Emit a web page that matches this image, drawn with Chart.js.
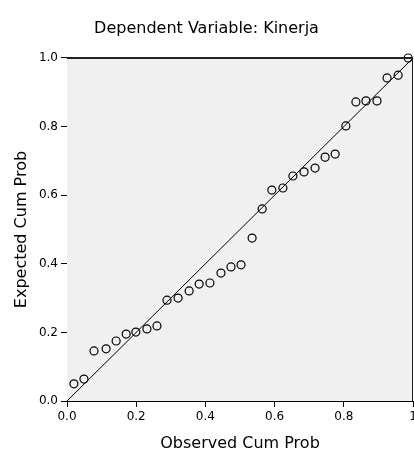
<!DOCTYPE html>
<html>
<head>
<meta charset="utf-8">
<script src="https://cdn.jsdelivr.net/npm/chart.js@4/dist/chart.umd.min.js"></script>
<style>
  html, body { margin: 0; padding: 0; background: #fff; }
  #wrap { width: 414px; height: 452px; }
</style>
</head>
<body>
<div id="wrap"><canvas id="myChart" width="414" height="452"></canvas></div>
<script>
// observed vs expected cumulative probabilities
let observed = [0.020, 0.049, 0.078, 0.113, 0.142, 0.171, 0.199, 0.231, 0.260, 0.289, 0.321,
                0.353, 0.382, 0.413, 0.445, 0.474, 0.503, 0.535, 0.564, 0.592, 0.624, 0.653,
                0.685, 0.717, 0.746, 0.775, 0.806, 0.835, 0.864, 0.896, 0.925, 0.957, 0.986]
let expected = [0.050, 0.064, 0.146, 0.152, 0.175, 0.195, 0.201, 0.210, 0.219, 0.294, 0.300,
                0.321, 0.341, 0.344, 0.373, 0.391, 0.397, 0.475, 0.560, 0.615, 0.621, 0.656,
                0.668, 0.679, 0.711, 0.720, 0.802, 0.872, 0.875, 0.875, 0.942, 0.950, 1.000]
let refLine = [0, 1]
let xTicks = ['0.0', '0.2', '0.4', '0.6', '0.8', '1']
let yTicks = ['0.0', '0.2', '0.4', '0.6', '0.8', '1.0']

let points = observed.map(function(x, i) { return { x: x, y: expected[i] } })
let diagonal = refLine.map(function(v) { return { x: v, y: v } })

let fontFamily = "'DejaVu Sans', sans-serif"

// grey plot background plus top/right frame
let plotFrame = {
    id: 'plotFrame',
    beforeDatasetsDraw: function(chart) {
        let a = chart.chartArea
        let c = chart.ctx
        c.save()
        c.fillStyle = '#f0f0f0'
        c.fillRect(a.left, a.top, a.right - a.left, a.bottom - a.top)
        c.restore()
    },
    afterDraw: function(chart) {
        let a = chart.chartArea
        let c = chart.ctx
        c.save()
        c.strokeStyle = '#222'
        c.lineWidth = 2
        c.beginPath()
        c.moveTo(a.left, a.top)
        c.lineTo(a.right, a.top)
        c.stroke()
        c.lineWidth = 1
        c.beginPath()
        c.moveTo(a.right - 0.5, a.top)
        c.lineTo(a.right - 0.5, a.bottom)
        c.stroke()
        c.restore()
    }
}

let ctx = document.getElementById('myChart').getContext('2d')
let chart = new Chart(ctx, {
    type: 'scatter',
    data: {
        datasets: [{
            label: 'Reference',
            type: 'line',
            data: diagonal,
            borderColor: '#000',
            borderWidth: 1,
            pointRadius: 0,
            fill: false
        }, {
            label: 'Kinerja',
            data: points,
            pointStyle: 'circle',
            pointRadius: 4,
            borderColor: '#000',
            borderWidth: 1.2,
            backgroundColor: 'rgba(0,0,0,0)',
            clip: false
        }]
    },
    plugins: [plotFrame],
    options: {
        responsive: false,
        animation: false,
        layout: { autoPadding: false, padding: { top: 6.4, right: 1, bottom: 0, left: 0 } },
        plugins: {
            legend: { display: false },
            tooltip: { enabled: false },
            title: {
                display: true,
                text: 'Dependent Variable: Kinerja',
                color: '#000',
                font: { family: fontFamily, size: 16, weight: 'normal', lineHeight: 1.2 },
                padding: { top: 12.4, bottom: 20 }
            }
        },
        scales: {
            x: {
                type: 'linear',
                min: 0,
                max: 1,
                afterBuildTicks: function(scale) {
                    scale.ticks = xTicks.map(function(t) { return { value: parseFloat(t) } })
                },
                afterFit: function(scale) {
                    scale.height = 51
                    scale.paddingLeft = 0
                    scale.paddingRight = 0
                },
                ticks: {
                    color: '#000',
                    padding: 3,
                    maxRotation: 0,
                    autoSkip: false,
                    font: { family: fontFamily, size: 12 },
                    callback: function(value, index) { return xTicks[index] }
                },
                grid: { drawOnChartArea: false, drawTicks: true, tickLength: 6, color: '#000' },
                border: { display: true, color: '#000', width: 1 },
                title: {
                    display: true,
                    text: 'Observed Cum Prob',
                    color: '#000',
                    font: { family: fontFamily, size: 16, lineHeight: 1 },
                    padding: { top: 0, bottom: 0 }
                }
            },
            y: {
                type: 'linear',
                min: 0,
                max: 1,
                afterBuildTicks: function(scale) {
                    scale.ticks = yTicks.map(function(t) { return { value: parseFloat(t) } })
                },
                afterFit: function(scale) {
                    scale.width = 67
                    scale.paddingTop = 0
                    scale.paddingBottom = 0
                },
                ticks: {
                    color: '#000',
                    padding: 3,
                    autoSkip: false,
                    font: { family: fontFamily, size: 12 },
                    callback: function(value, index) { return yTicks[index] }
                },
                grid: { drawOnChartArea: false, drawTicks: true, tickLength: 6, color: '#000' },
                border: { display: true, color: '#000', width: 1 },
                title: {
                    display: true,
                    text: 'Expected Cum Prob',
                    color: '#000',
                    font: { family: fontFamily, size: 16, lineHeight: 1 },
                    padding: { top: 14, bottom: 0 }
                }
            }
        }
    }
})
</script>
</body>
</html>
